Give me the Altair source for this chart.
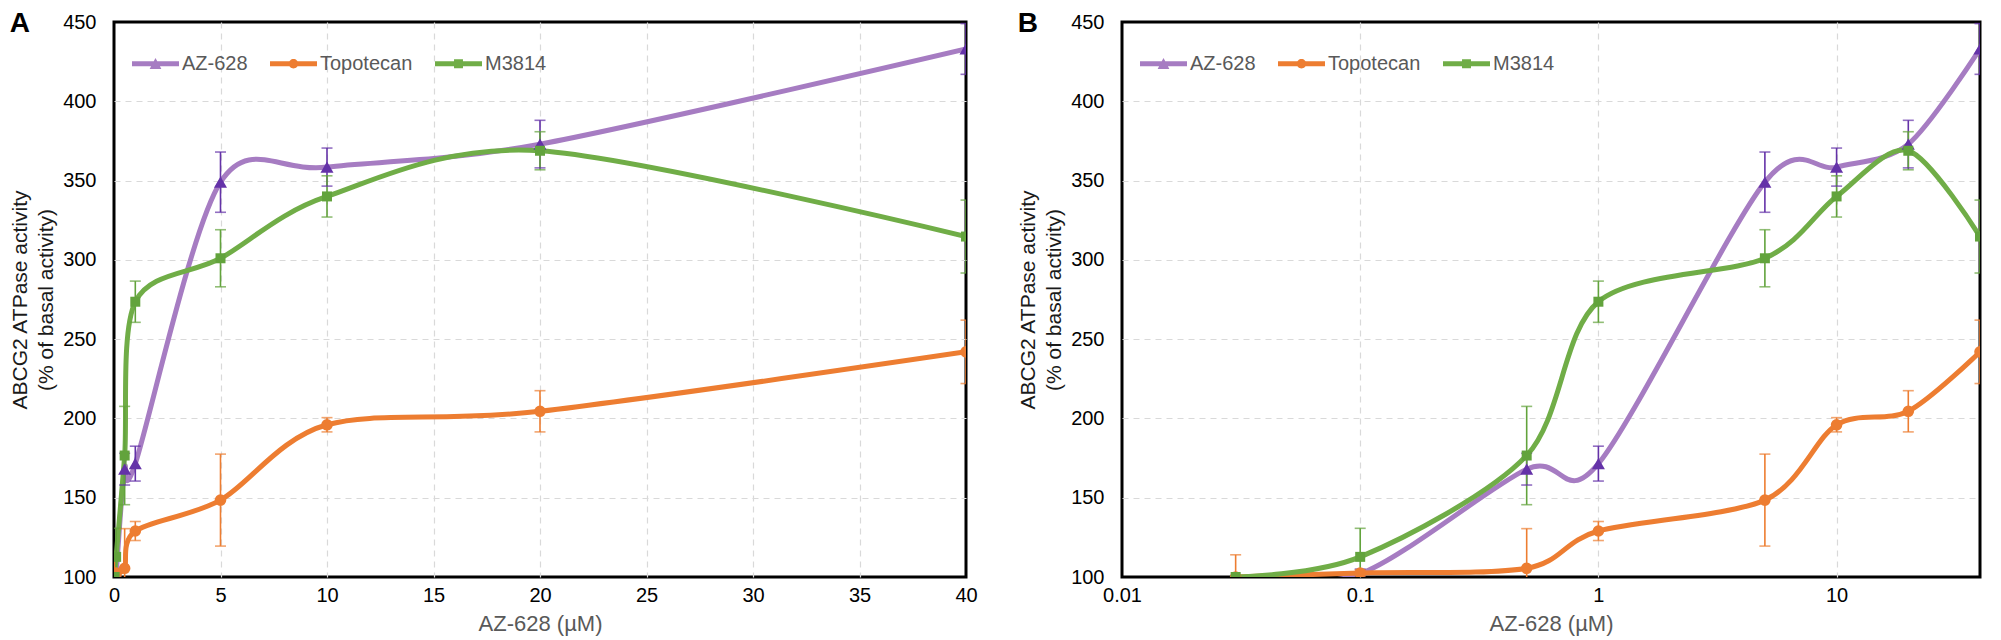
import altair as alt
import pandas as pd

# ---- data ----
series_names = ["AZ-628", "Topotecan", "M3814"]
conc = [0.03, 0.1, 0.5, 1, 5, 10, 20, 40]
az_mean = [100, 102, 168, 171.5, 349, 358.5, 373, 433]
az_err = [0, 3, 10, 11, 19, 12, 15, 16]
topo_mean = [100, 102.5, 105.5, 129, 148.5, 196, 204.5, 242]
topo_err = [14, 2, 25, 6, 29, 4.5, 13, 20]
m3814_mean = [100, 112.7, 176.6, 273.6, 301, 340, 368.8, 314.7]
m3814_err = [0, 18, 31, 13, 18, 13, 12, 23]

y_ticks = [100, 150, 200, 250, 300, 350, 400, 450]
x_ticks_lin = [0, 5, 10, 15, 20, 25, 30, 35, 40]
x_ticks_log = [0.01, 0.1, 1, 10]

# ---- styles ----
line_colors = ["#A67CC2", "#ED7D31", "#70AD47"]
marker_colors = ["#6432A8", "#ED7D31", "#62A33C"]
marker_shapes = ["triangle-up", "circle", "square"]
marker_sizes = [170, 100, 110]
bar = "M-1,-0.11L1,-0.11L1,0.11L-1,0.11Z"
legend_paths = [
    bar + "M-0.25,0.22L0,-0.24L0.25,0.22Z",
    bar + "M-0.2,0A0.2,0.2 0 1,1 0.2,0A0.2,0.2 0 1,1 -0.2,0Z",
    bar + "M-0.19,-0.19L0.19,-0.19L0.19,0.19L-0.19,0.19Z",
]

rows = []
for name, means, errs in zip(series_names, [az_mean, topo_mean, m3814_mean],
                             [az_err, topo_err, m3814_err]):
    for c, m, e in zip(conc, means, errs):
        rows.append({"series": name, "conc": c, "mean": m, "lo": m - e, "hi": m + e})
df = pd.DataFrame(rows)

FONT = "Liberation Sans"
Y_TITLE = ["ABCG2 ATPase activity", "(% of basal activity)"]


def panel(letter, xscale, xvalues, xedge_test, width):
    base = alt.Chart(df)
    xaxis = alt.Axis(values=xvalues, format="~g", title="AZ-628 (µM)",
                     titleColor="#595959", titleFontSize=22, titleFontWeight="normal",
                     titlePadding=8, labelFontSize=20, labelColor="#000000",
                     labelPadding=8, ticks=False, domain=False, grid=True,
                     gridDash=[6, 5], gridColor="#D9D9D9", gridWidth=1.2,
                     gridOpacity={"condition": {"test": xedge_test, "value": 0}, "value": 1},
                     labelFlush=False)
    yaxis = alt.Axis(values=y_ticks, title=Y_TITLE, titleColor="#1a1a1a",
                     titleFontSize=21, titleFontWeight="normal", titleLineHeight=26,
                     titlePadding=6, labelFontSize=20, labelColor="#000000",
                     labelPadding=18, ticks=False, domain=False, grid=True,
                     gridDash=[6, 5], gridColor="#D9D9D9", gridWidth=1.2,
                     gridOpacity={"condition": {"test": "datum.value <= 100 || datum.value >= 450",
                                                "value": 0}, "value": 1})
    yscale = alt.Scale(domain=[100, 450], nice=False, zero=False)
    x = alt.X("conc:Q", scale=xscale, axis=xaxis)
    y = alt.Y("mean:Q", scale=yscale, axis=yaxis)
    line_color = alt.Color("series:N", scale=alt.Scale(domain=series_names, range=line_colors), legend=None)
    mk_color = alt.Color("series:N", scale=alt.Scale(domain=series_names, range=marker_colors), legend=None)

    lines = base.mark_line(interpolate="cardinal", tension=0.1, strokeWidth=5, clip=True).encode(
        x=x, y=y, color=line_color, detail="series:N")
    rules = base.mark_rule(strokeWidth=1.6, clip=True).encode(
        x=x, y=alt.Y("lo:Q", scale=yscale, axis=yaxis), y2="hi:Q", color=mk_color)
    caps_hi = base.mark_tick(orient="horizontal", size=11, thickness=1.6, clip=True).encode(
        x=x, y=alt.Y("hi:Q", scale=yscale, axis=yaxis), color=mk_color)
    caps_lo = base.mark_tick(orient="horizontal", size=11, thickness=1.6, clip=True).encode(
        x=x, y=alt.Y("lo:Q", scale=yscale, axis=yaxis), color=mk_color)
    points = base.mark_point(filled=True, opacity=1, clip=True).encode(
        x=x, y=y, color=mk_color,
        shape=alt.Shape("series:N", scale=alt.Scale(domain=series_names, range=marker_shapes), legend=None),
        size=alt.Size("series:N", scale=alt.Scale(domain=series_names, range=marker_sizes), legend=None))
    leg = alt.Legend(title=None, orient="top-left", direction="horizontal", offset=18,
                     labelFontSize=20, labelColor="#595959", labelFont=FONT,
                     symbolSize=2209, symbolOpacity=1, symbolStrokeWidth=0,
                     columnPadding=22, labelOffset=3, padding=0)
    legend_layer = base.mark_point(filled=True, opacity=0).encode(
        x=x, y=y,
        color=alt.Color("series:N", scale=alt.Scale(domain=series_names, range=line_colors), legend=leg),
        shape=alt.Shape("series:N", scale=alt.Scale(domain=series_names, range=legend_paths), legend=leg))

    return alt.layer(lines, rules, caps_hi, caps_lo, points, legend_layer).resolve_scale(
        color="independent", shape="independent", size="independent"
    ).properties(
        width=width, height=555,
        title=alt.TitleParams(text=letter, anchor="start", frame="bounds", orient="top",
                              fontSize=28, fontWeight="bold", font=FONT, color="#000000",
                              offset=-26))


panel_a = panel("A", alt.Scale(domain=[0, 40], nice=False, zero=False), x_ticks_lin,
                "datum.value <= 0 || datum.value >= 40", 852)
panel_b = panel("B", alt.Scale(type="log", domain=[0.01, 40], nice=False), x_ticks_log,
                "datum.value <= 0.01", 858)

chart = alt.hconcat(panel_a, panel_b, spacing=37).properties(
    padding={"top": 0, "left": 0, "right": 0, "bottom": 0}).configure(
    font=FONT).configure_view(stroke="#000000", strokeWidth=3)

chart.save("out.html", embed_options={"renderer": "svg", "actions": False})
